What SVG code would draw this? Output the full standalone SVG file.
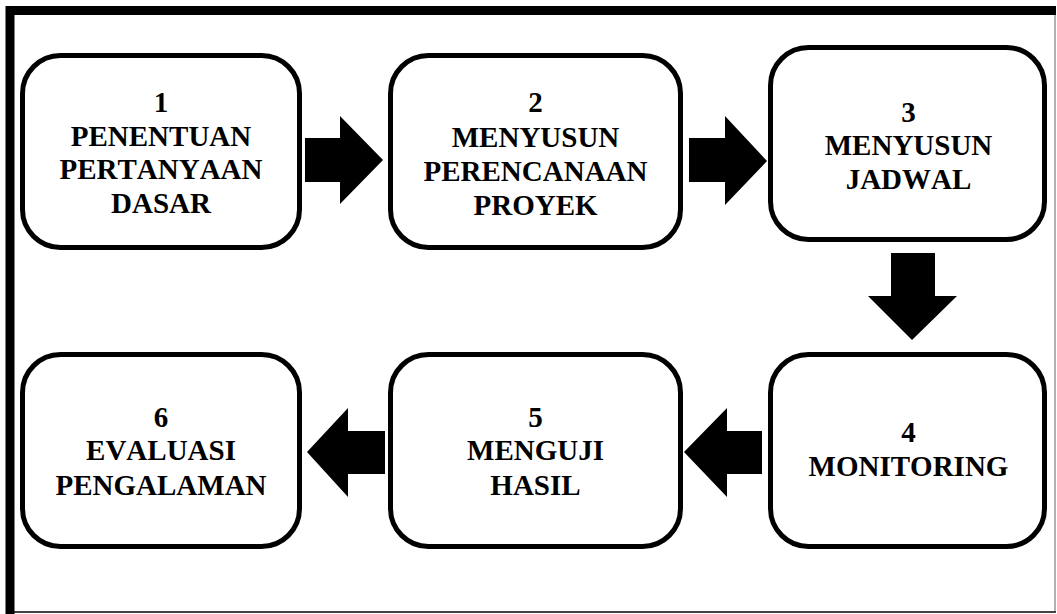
<svg xmlns="http://www.w3.org/2000/svg" width="1057" height="614" viewBox="0 0 1057 614">
<style>
.box{fill:#fff;stroke:#000;stroke-width:5}
text{font-family:'Liberation Serif','Times New Roman',Times,serif;font-weight:700;font-size:29px;text-anchor:middle;fill:#000;font-kerning:none}
.arr{fill:#000}
</style>
<rect x="0" y="0" width="1057" height="614" fill="#fff"/>
<g id="frame">
<line x1="1055" y1="10" x2="1055" y2="612" stroke="#999" stroke-width="1.5"/>
<line x1="10" y1="612" x2="1056" y2="612" stroke="#444" stroke-width="2"/>
<path d="M10 614 V10.5 H1056" fill="none" stroke="#000" stroke-width="9"/>
</g>
<g id="node1">
<rect class="box" x="22.5" y="55.5" width="277" height="192" rx="38"/>
<text x="161" y="112">1</text>
<text x="161" y="146">PENENTUAN</text>
<text x="161" y="179">PERTANYAAN</text>
<text x="161" y="213">DASAR</text>
</g>
<g id="node2">
<rect class="box" x="390.5" y="55.5" width="290" height="192" rx="38"/>
<text x="535.5" y="112">2</text>
<text x="535.5" y="147">MENYUSUN</text>
<text x="535.5" y="181">PERENCANAAN</text>
<text x="535.5" y="215">PROYEK</text>
</g>
<g id="node3">
<rect class="box" x="770.5" y="47.5" width="274" height="192" rx="38"/>
<text x="908.5" y="122">3</text>
<text x="908.5" y="155">MENYUSUN</text>
<text x="908.5" y="189">JADWAL</text>
</g>
<g id="node4">
<rect class="box" x="770.5" y="354.5" width="274" height="192" rx="38"/>
<text x="908.5" y="442">4</text>
<text x="908.5" y="476">MONITORING</text>
</g>
<g id="node5">
<rect class="box" x="390.5" y="354.5" width="290" height="192" rx="38"/>
<text x="535.5" y="427">5</text>
<text x="535.5" y="460">MENGUJI</text>
<text x="535.5" y="495">HASIL</text>
</g>
<g id="node6">
<rect class="box" x="22.5" y="354.5" width="277" height="192" rx="38"/>
<text x="161" y="427">6</text>
<text x="161" y="460">EVALUASI</text>
<text x="161" y="495">PENGALAMAN</text>
</g>
<g id="connectors">
<polygon class="arr" points="305,138 340,138 340,116 383,160 340,204 340,182 305,182"/>
<polygon class="arr" points="689,138 725,138 725,116 767,161 725,205 725,182 689,182"/>
<polygon class="arr" points="891,253 935,253 935,296 957,296 912,340 868,296 891,296"/>
<polygon class="arr" points="762,431 727,431 727,408 684,452 727,497 727,474 762,474"/>
<polygon class="arr" points="385,431 348,431 348,408 307,452 348,497 348,474 385,474"/>
</g>
</svg>
